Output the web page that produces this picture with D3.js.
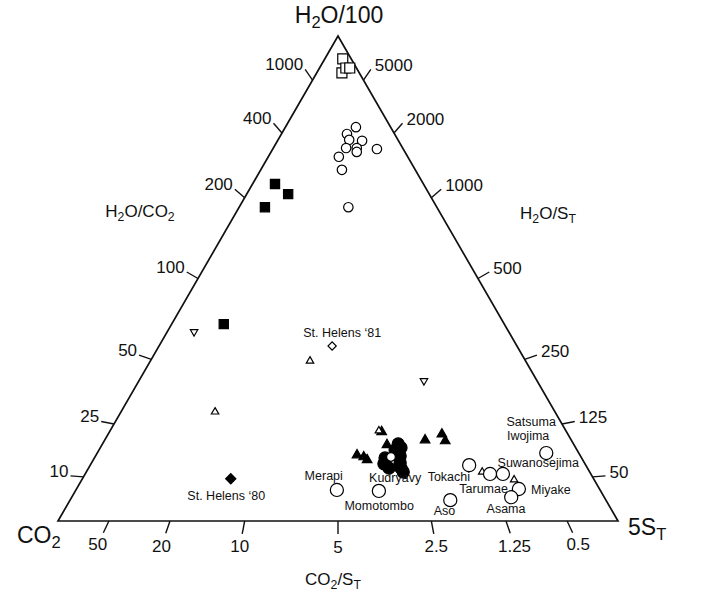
<!DOCTYPE html>
<html>
<head>
<meta charset="utf-8">
<script src="https://cdn.jsdelivr.net/npm/d3@7"></script>
<style>
	body { margin: 0; background: #fff; }
	text { font-family: "Liberation Sans", Arial, sans-serif; fill: #111; }
</style>
</head>
<body>
<div id="chart"></div>
<script>
// Compositions as [H2O/100, CO2, 5ST] (%)
const openSquares = [[95.3, 1.5, 3.2], [92.4, 3.1, 4.5], [93.4, 1.9, 4.7], [93.4, 1.2, 5.4]];
const smallOpenCircles = [
	[81.2, 6.2, 12.6], [79.8, 8.5, 11.7], [78.6, 8.7, 12.7], [78.4, 6.5, 15.1],
	[76.9, 10.1, 13.0], [76.9, 8.2, 14.9], [76.1, 8.6, 15.3], [76.7, 4.7, 18.6],
	[75.1, 12.3, 12.6], [72.4, 13.1, 14.5], [64.7, 15.8, 19.5]
];
const filledSquares = [[69.5, 26.5, 4.0], [67.4, 25.2, 7.4], [64.7, 30.7, 4.6], [40.6, 50.1, 9.3]];
const openTrianglesDown = [[39.0, 56.2, 4.8], [28.9, 20.2, 50.9]];
const filledTriangles = [
	[18.4, 33.0, 48.6], [13.6, 39.8, 46.6], [13.2, 38.8, 48.0], [12.6, 38.5, 48.9],
	[15.7, 33.4, 50.9], [16.7, 26.1, 57.2], [17.9, 22.5, 59.6], [16.5, 22.6, 60.9]
];
const openTrianglesUp = [[33.0, 38.5, 28.5], [22.5, 60.7, 16.8], [10.1, 19.2, 70.7], [8.5, 14.3, 77.2], [18.6, 33.4, 48.0]];
const openDiamonds = [[36.1, 33.0, 30.9]];
const filledDiamonds = [[8.7, 64.8, 26.5]];
const kudryavyFilled = [
	[15.9, 31.3, 52.8], [15.1, 31.2, 53.7], [14.6, 32.5, 52.9], [13.4, 32.2, 54.4],
	[13.0, 35.1, 51.9], [11.8, 35.9, 52.3], [10.9, 35.4, 53.6], [12.0, 32.9, 55.1],
	[10.9, 33.3, 55.8], [10.1, 33.3, 56.6]
];
const kudryavyOpen = [[13.2, 33.9, 52.8]];
const volcanoCircles = [
	[6.4, 47.0, 46.6], [6.2, 39.6, 54.2], [4.3, 27.8, 67.9], [11.5, 20.8, 67.6],
	[9.7, 18.0, 72.3], [9.7, 15.7, 74.6], [14.0, 5.8, 80.1], [6.6, 14.4, 79.0], [4.9, 16.6, 78.4]
];

// Point labels: text and composition of text anchor
const labelNames = ['St. Helens \u201881', 'St. Helens \u201880', 'Merapi', 'Kudryavy', 'Momotombo', 'Tokachi',
	'Aso', 'Tarumae', 'Suwanosejima', 'Satsuma', 'Iwojima', 'Miyake', 'Asama'];
const labelAt = [
	[37.9, 30.3, 31.8], [4.3, 67.8, 27.9], [8.5, 48.3, 43.2], [8.0, 35.8, 56.2], [2.3, 41.5, 56.2], [8.2, 26.1, 65.7],
	[1.2, 30.4, 68.4], [5.8, 21.1, 73.1], [11.1, 8.7, 80.2], [19.6, 5.7, 74.7], [16.7, 7.7, 75.6], [5.6, 9.2, 85.2], [1.6, 19.2, 79.2]
];

// Ratio ticks
const h2oCo2Ticks = [1000, 400, 200, 100, 50, 25, 10];
const h2oStTicks = [5000, 2000, 1000, 500, 250, 125, 50];
const co2StTicks = [50, 20, 10, 5, 2.5, 1.25, 0.5];

const WIDTH = 715, HEIGHT = 599;
const TICK_LEN = 13;

const svg = d3.select('#chart').append('svg')
	.attr('width', WIDTH)
	.attr('height', HEIGHT);

// Scales: x on (5ST + H/2), y on H
const xScale = d3.scaleLinear().domain([0, 1]).range([58, 618]);
const yScale = d3.scaleLinear().domain([0, 1]).range([521, 36]);

function project(d) {
	const t = d[0] + d[1] + d[2];
	const h = d[0] / t, s = d[2] / t;
	return [xScale(s + h / 2), yScale(h)];
}

const vH = project([1, 0, 0]), vC = project([0, 1, 0]), vS = project([0, 0, 1]);

// Triangle frame
svg.append('path')
	.attr('d', d3.line()([vC, vS, vH]) + 'Z')
	.attr('fill', 'none')
	.attr('stroke', '#111')
	.attr('stroke-width', 1.7);

// Text with subscripts, parts starting with '_' are subscript
function rich(sel, parts, size) {
	sel.attr('font-size', size);
	let prevSub = false;
	parts.forEach(p => {
		const isSub = p.startsWith('_');
		sel.append('tspan')
			.attr('font-size', isSub ? size * 0.72 : size)
			.attr('dy', isSub ? size * 0.22 : (prevSub ? -size * 0.22 : 0))
			.text(isSub ? p.slice(1) : p);
		prevSub = isSub;
	});
	return sel;
}

// Ticks along one edge, drawn as extensions of the ratio lines
function drawTicks(values, toComp, opposite, placeLabel) {
	values.forEach(v => {
		const p = project(toComp(v));
		const dx = p[0] - opposite[0], dy = p[1] - opposite[1];
		const len = Math.hypot(dx, dy);
		const u = [dx / len, dy / len];
		const end = [p[0] + u[0] * TICK_LEN, p[1] + u[1] * TICK_LEN];
		svg.append('line')
			.attr('x1', p[0]).attr('y1', p[1])
			.attr('x2', end[0]).attr('y2', end[1])
			.attr('stroke', '#111')
			.attr('stroke-width', 1.4);
		placeLabel(svg.append('text').attr('font-size', 17).attr('dy', '0.35em').text(v), end, u);
	});
}

drawTicks(h2oCo2Ticks, r => [r / (100 + r), 1 - r / (100 + r), 0], vS,
	(t, e) => t.attr('x', e[0] - 2).attr('y', e[1] - 5).attr('text-anchor', 'end'));
drawTicks(h2oStTicks, r => [r / (500 + r), 0, 1 - r / (500 + r)], vC,
	(t, e) => t.attr('x', e[0] + 4).attr('y', e[1] - 4).attr('text-anchor', 'start'));
drawTicks(co2StTicks, r => [0, r / (5 + r), 1 - r / (5 + r)], vH,
	(t, e, u) => t.attr('x', e[0] + u[0] * 13).attr('y', e[1] + u[1] * 13).attr('text-anchor', 'middle'));

// Vertex labels
rich(svg.append('text').attr('x', 339).attr('y', 23).attr('text-anchor', 'middle'), ['H', '_2', 'O/100'], 23);
rich(svg.append('text').attr('x', 17).attr('y', 543), ['CO', '_2'], 23);
rich(svg.append('text').attr('x', 628).attr('y', 535), ['5S', '_T'], 23);

// Axis titles
rich(svg.append('text').attr('x', 140).attr('y', 217).attr('text-anchor', 'middle'), ['H', '_2', 'O/CO', '_2'], 17);
rich(svg.append('text').attr('x', 548).attr('y', 219).attr('text-anchor', 'middle'), ['H', '_2', 'O/S', '_T'], 17);
rich(svg.append('text').attr('x', 333).attr('y', 585).attr('text-anchor', 'middle'), ['CO', '_2', '/S', '_T'], 17);

// Marker groups, drawn in order
const markerGroups = [
	{data: openSquares, type: d3.symbolSquare, size: 100, fill: '#fff', rotate: 0},
	{data: smallOpenCircles, type: d3.symbolCircle, size: 70, fill: '#fff', rotate: 0},
	{data: filledSquares, type: d3.symbolSquare, size: 85, fill: '#000', rotate: 0},
	{data: openTrianglesDown, type: d3.symbolTriangle, size: 24, fill: '#fff', rotate: 180},
	{data: openDiamonds, type: d3.symbolSquare, size: 34, fill: '#fff', rotate: 45},
	{data: filledDiamonds, type: d3.symbolSquare, size: 52, fill: '#000', rotate: 45},
	{data: filledTriangles, type: d3.symbolTriangle, size: 40, fill: '#000', rotate: 0},
	{data: openTrianglesUp, type: d3.symbolTriangle, size: 24, fill: '#fff', rotate: 0},
	{data: kudryavyFilled, type: d3.symbolCircle, size: 115, fill: '#000', rotate: 0},
	{data: kudryavyOpen, type: d3.symbolCircle, size: 60, fill: '#fff', rotate: 0},
	{data: volcanoCircles, type: d3.symbolCircle, size: 135, fill: '#fff', rotate: 0}
];

markerGroups.forEach(g => {
	svg.append('g')
		.selectAll('path')
		.data(g.data)
		.enter()
		.append('path')
		.attr('d', d3.symbol().type(g.type).size(g.size))
		.attr('transform', d => {
			const p = project(d);
			return `translate(${p[0]}, ${p[1]})rotate(${g.rotate})`;
		})
		.attr('fill', g.fill)
		.attr('stroke', '#000')
		.attr('stroke-width', 1.2);
});

// Volcano / eruption labels
svg.append('g')
	.selectAll('text')
	.data(labelNames)
	.enter()
	.append('text')
	.attr('x', (d, i) => project(labelAt[i])[0])
	.attr('y', (d, i) => project(labelAt[i])[1])
	.attr('text-anchor', 'middle')
	.attr('font-size', 12.5)
	.text(d => d);
</script>
</body>
</html>
